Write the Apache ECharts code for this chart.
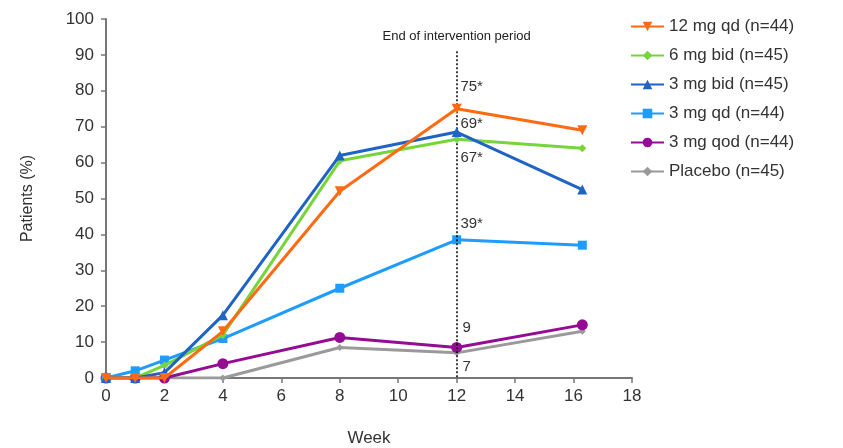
<!DOCTYPE html>
<html lang="en">
<head>
<meta charset="UTF-8">
<title>Patients</title>
<script src="https://cdn.jsdelivr.net/npm/echarts@6/dist/echarts.min.js"></script>
</head>
<body style="margin:0;background:#fff;">
<div id="main" style="width:843px;height:448px;"></div>
<script type="text/javascript">
var weeks = [0, 1, 2, 4, 8, 12, 16.3];
var names = ['12 mg qd (n=44)', '6 mg bid (n=45)', '3 mg bid (n=45)', '3 mg qd (n=44)', '3 mg qod (n=44)', 'Placebo (n=45)'];
var qd12 = [0, 0, 0, 13, 52, 75, 69];
var bid6 = [0, 0, 3.5, 12, 60.5, 66.5, 64];
var bid3 = [0, 0, 1.5, 17.5, 62, 68.5, 52.5];
var qd3 = [0, 2, 5, 11, 25, 38.5, 37];
var qod3 = [0, 0, 0, 4, 11.3, 8.5, 14.8];
var placebo = [0, 0, 0, 0, 8.5, 7, 13];
var endLabels = ['75*', '67*', '69*', '39*', '9', '7'];
var colors = ['#ff6a13', '#77d53c', '#1f63c4', '#1e9dff', '#950b94', '#9a9a9a'];
var symbols = ['triangle', 'diamond', 'triangle', 'rect', 'circle', 'diamond'];
var symbolRot = [180, 0, 0, 0, 0, 0];
var symbolSz = [10, 8, 10, 9, 11, 7];
var labelOffsets = [[15, -4], [15, 35], [15, 9], [15, 1], [10, -2], [10, 30]];

var allData = [qd12, bid6, bid3, qd3, qod3, placebo];
var zs = [8, 5, 6, 4, 3, 2];

var series = allData.map(function (vals, s) {
    var pts = vals.map(function (v, i) {
        var item = { value: [weeks[i], v] };
        if (weeks[i] === 12) {
            item.label = {
                show: true,
                formatter: endLabels[s],
                position: 'top',
                offset: labelOffsets[s],
                color: '#333',
                fontSize: 15,
                fontFamily: 'Liberation Sans'
            };
        }
        return item;
    });
    return {
        name: names[s],
        type: 'line',
        data: pts,
        z: zs[s],
        symbol: symbols[s],
        symbolSize: symbolSz[s],
        symbolRotate: symbolRot[s],
        lineStyle: { color: colors[s], width: 3 },
        itemStyle: { color: colors[s] },
        animation: false
    };
});

series[0].markLine = {
    silent: true,
    symbol: 'none',
    animation: false,
    lineStyle: { color: '#000', type: [2, 2], width: 1.5 },
    label: {
        show: true,
        position: 'start',
        formatter: 'End of intervention period',
        color: '#222',
        fontSize: 13,
        fontFamily: 'Liberation Sans',
        distance: 8
    },
    data: [[{ coord: [12, 91] }, { coord: [12, 0] }]]
};

var myChart = echarts.init(document.getElementById('main'));
var option = {
    textStyle: { fontFamily: 'Liberation Sans' },
    grid: { left: 106, right: 211, top: 19, bottom: 70, containLabel: false, outerBoundsMode: 'none' },
    legend: {
        orient: 'vertical',
        left: 625,
        top: 13,
        itemGap: 12,
        itemWidth: 33,
        itemHeight: 12,
        data: names,
        textStyle: { fontSize: 17, color: '#333', fontFamily: 'Liberation Sans' }
    },
    xAxis: {
        type: 'value',
        min: 0,
        max: 18,
        interval: 2,
        name: 'Week',
        nameLocation: 'middle',
        nameGap: 52,
        nameTextStyle: { fontSize: 17, color: '#333' },
        splitLine: { show: false },
        axisLine: { lineStyle: { color: '#777', width: 2 } },
        axisTick: { show: true, length: 5, lineStyle: { color: '#777', width: 1.5 } },
        axisLabel: { fontSize: 17, color: '#333', margin: 10 }
    },
    yAxis: {
        type: 'value',
        min: 0,
        max: 100,
        interval: 10,
        name: 'Patients (%)',
        nameLocation: 'middle',
        nameGap: 70,
        nameTextStyle: { fontSize: 16, color: '#333' },
        splitLine: { show: false },
        axisLine: { show: true, lineStyle: { color: '#777', width: 2 } },
        axisTick: { show: true, length: 5, lineStyle: { color: '#777', width: 1.5 } },
        axisLabel: { fontSize: 17, color: '#333', margin: 12 }
    },
    series: series
};
myChart.setOption(option);
</script>
</body>
</html>
